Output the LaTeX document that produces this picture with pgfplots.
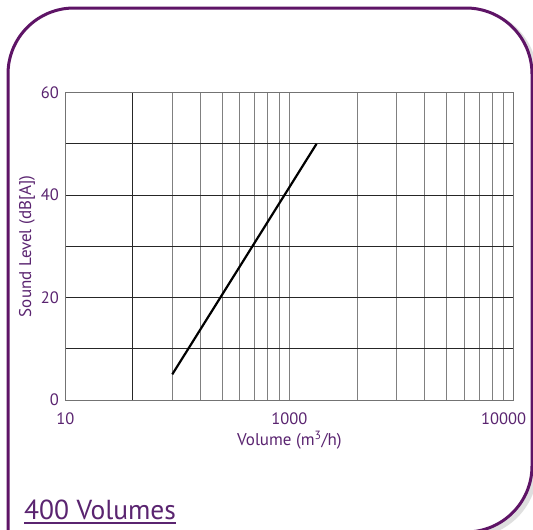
\documentclass[border=0pt]{standalone}
\usepackage{pgfplots}
\pgfplotsset{compat=1.18}
\usetikzlibrary{calc}
\usepackage{fontspec}
\setmainfont{PT Sans}
\definecolor{boxpurple}{HTML}{5E1466}
\definecolor{txtpurple}{HTML}{5A2470}
\begin{document}
\begin{tikzpicture}
\useasboundingbox (0pt,0pt) rectangle (533pt,-530pt);
\begin{scope}[x=1pt,y=1pt]
\clip (0,0) rectangle (533,-530);
\draw[black!25, line width=5pt, opacity=0.5, rounded corners=66pt] (11,-620) -- (11,-11) -- (535,-11) -- (535,-535) -- (300,-535);
\fill[white, rounded corners=66pt] (8,-620) -- (8,-8) -- (532,-8) -- (532,-532) -- (300,-532) -- (8,-532);
\draw[boxpurple, line width=3pt, rounded corners=66pt] (8,-620) -- (8,-8) -- (532,-8) -- (532,-532) -- (300,-532);
\end{scope}
\begin{axis}[
  at={(65.3pt,-400pt)}, anchor=south west,
  width=448.3pt, height=307.3pt, scale only axis,
  xmode=log, xmin=100, xmax=10000, ymin=0, ymax=60,
  /pgf/number format/assume math mode=true,
  xtick={100,1000,10000}, xticklabels={10,1000,10000\hspace*{20pt}},
  minor xtick={300,400,500,600,700,800,900,2000,3000,4000,5000,6000,7000,8000,9000},
  extra x ticks={200}, extra x tick labels={},
  extra x tick style={major x grid style={black!85, line width=0.9pt}},
  ytick={0,20,40,60}, yticklabels={0,20,40,60},
  minor ytick={10,30,50},
  grid=both,
  major x grid style={black!50, line width=0.7pt},
  minor x grid style={black!50, line width=0.7pt},
  major y grid style={black!85, line width=0.9pt},
  minor y grid style={black!85, line width=0.9pt},
  axis line style={black!55, line width=0.8pt},
  major tick length=0pt, minor tick length=0pt,
  tick label style={font=\fontsize{16.5}{18}\selectfont, text=txtpurple},
  yticklabel style={xshift=-3pt},
  xticklabel style={yshift=-9pt},
  xlabel={Volume (m\textsuperscript{3}/h)},
  ylabel={Sound Level (dB[A])},
  label style={font=\fontsize{17}{19}\selectfont, text=txtpurple},
  xlabel style={yshift=0pt},
  ylabel style={yshift=-1pt},
  clip=false,
]
\addplot[black, line width=2.2pt] coordinates {(300,5) (1320,50)};
\end{axis}
\node[anchor=base west, inner sep=0pt, text=txtpurple, font=\fontsize{27.5}{30}\selectfont] (t) at (24pt,-519.5pt) {400 Volumes};
\draw[txtpurple, line width=1.5pt] ($(t.base west)+(0pt,-3.5pt)$) -- ($(t.base east)+(0pt,-3.5pt)$);
\end{tikzpicture}
\end{document}
